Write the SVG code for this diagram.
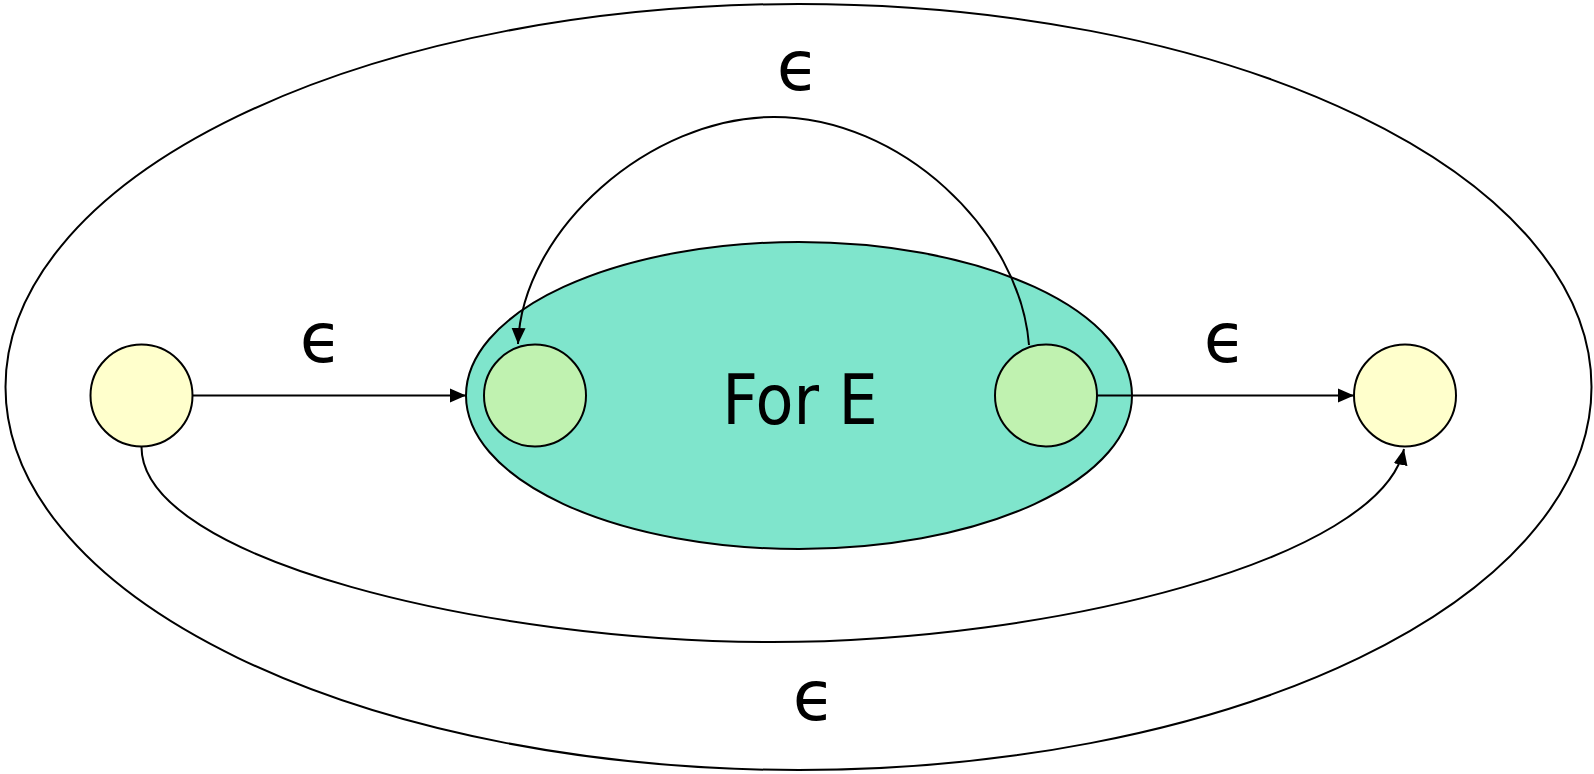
<svg xmlns="http://www.w3.org/2000/svg" width="1594" height="774" viewBox="0 0 1594 774">
<style>
.ln{fill:none;stroke:#000;stroke-width:2}
.yel{fill:#ffffcc;stroke:#000;stroke-width:2}
.grn{fill:#c0f2b0;stroke:#000;stroke-width:2}
.lbl{font-family:"DejaVu Sans","Liberation Sans",sans-serif;font-size:69px;fill:#000;text-anchor:middle}
</style>
<defs>
<marker id="a" viewBox="0 0 16 16" refX="16" refY="8" markerWidth="16" markerHeight="16" markerUnits="userSpaceOnUse" orient="auto">
<path d="M0,1 L16,8 L0,15 z" fill="#000"/>
</marker>
</defs>
<g id="outer"><ellipse cx="798.5" cy="387" rx="793" ry="383" class="ln"/></g>
<g id="forE">
<ellipse cx="799" cy="395.5" rx="333" ry="153.5" fill="#7fe5cc" stroke="#000" stroke-width="2"/>
<text x="800" y="424" class="lbl" style="font-stretch:condensed">For E</text>
</g>
<g id="s0"><circle cx="141.5" cy="395.5" r="51" class="yel"/></g>
<g id="s1"><circle cx="535" cy="395.5" r="51" class="grn"/></g>
<g id="s2"><circle cx="1046" cy="395.5" r="51" class="grn"/></g>
<g id="s3"><circle cx="1405" cy="395.5" r="51" class="yel"/></g>
<g id="connectors">
<path d="M192.5,395.5 L466,395.5" class="ln" marker-end="url(#a)"/>
<path d="M1097,395.5 L1354,395.5" class="ln" marker-end="url(#a)"/>
<path d="M1029,345 C1020,230 900,117 774,117 C650,117 522,230 518,344" class="ln" marker-end="url(#a)"/>
<path d="M141.5,447 C141.5,560 490,642 772,642 C1050,642 1380,560 1404,449" class="ln" marker-end="url(#a)"/>
</g>
<g id="labels">
<text x="798" y="90" class="lbl">ϵ</text>
<text x="321" y="362" class="lbl">ϵ</text>
<text x="1225" y="362" class="lbl">ϵ</text>
<text x="814" y="720" class="lbl">ϵ</text>
</g>
</svg>
